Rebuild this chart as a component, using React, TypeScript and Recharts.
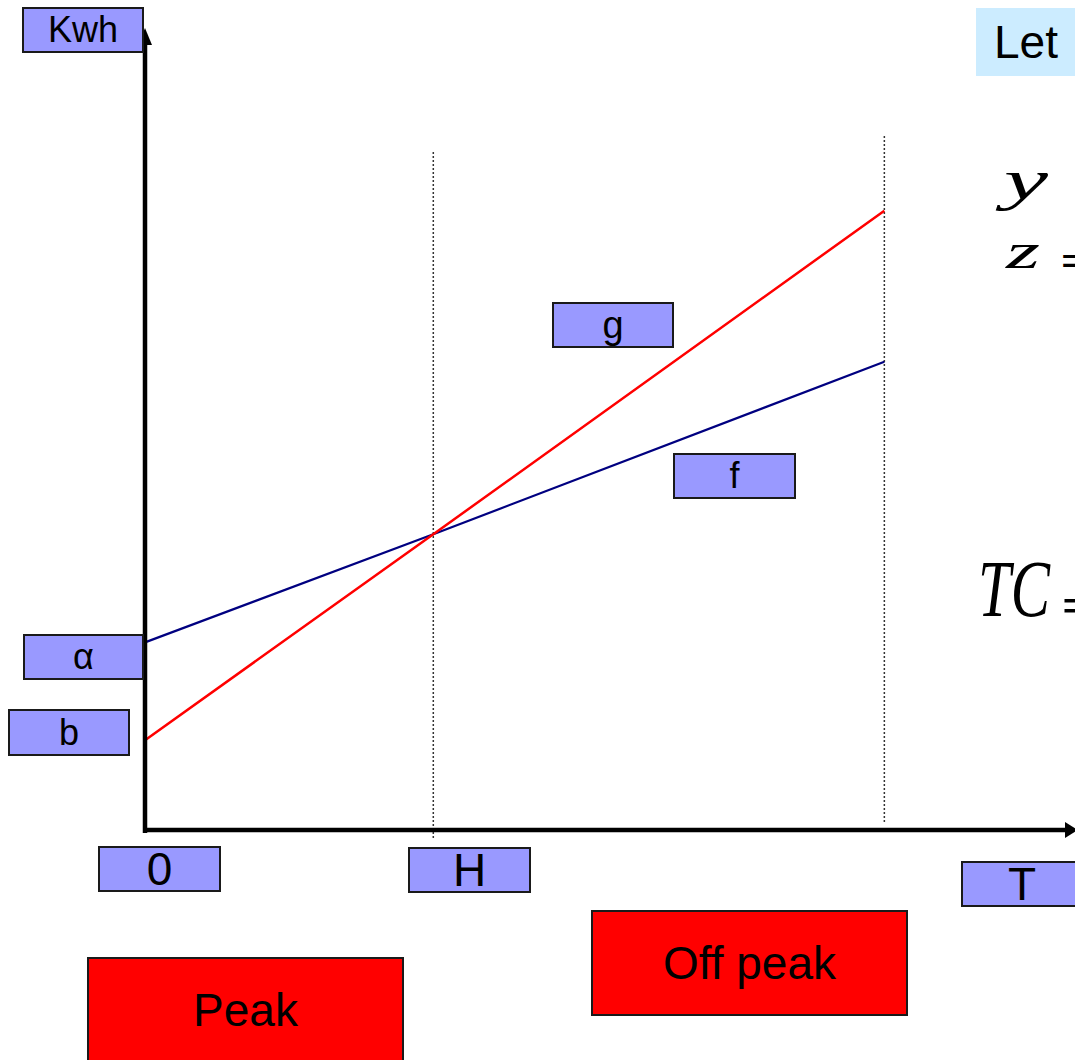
import { LineChart, Line, XAxis, YAxis, ReferenceLine } from "recharts"

// time (x) and energy (y) in arbitrary diagram units
const xValues = [0, 3.1, 7.95]
const fValues = [2.36, 3.72, 5.89]
const gValues = [1.13, 3.72, 7.79]
const H = 3.1
const END = 7.95
const X_MAX = 10
const Y_MAX = 10

const axisLabels = ["0", "H", "T"]
const sideLabels = ["Kwh", "α", "b"]
const lineLabels = ["g", "f"]
const periodLabels = ["Peak", "Off peak"]
const noteLabels = ["Let", "y", "z", "=", "TC", "="]

const data = xValues.map((x, i) => ({ x, f: fValues[i], g: gValues[i] }))

const SANS = '"Liberation Sans", Arial, sans-serif'
const SERIF = '"Liberation Serif", "Times New Roman", serif'
const BLUE_BOX = "#9999ff"

function Box({ left, top, width, height, fill, fontSize, border = true, align = "center", padLeft = 0, children }: any) {
  return (
    <div
      style={{
        position: "absolute",
        left,
        top,
        width,
        height,
        boxSizing: "border-box",
        border: border ? "2px solid #1a1a1a" : "none",
        background: fill,
        display: "flex",
        alignItems: "center",
        justifyContent: align,
        paddingLeft: padLeft,
        fontFamily: SANS,
        fontSize,
        lineHeight: 1,
        color: "#000",
        whiteSpace: "nowrap",
      }}
    >
      {children}
    </div>
  )
}

const ArrowUp = (p: any) => (
  <g>
    <line x1={p.x1} y1={p.y1 + 3} x2={p.x2} y2={p.y2 + 8} stroke="#000" strokeWidth={4.5} />
    <polygon points={`${p.x2 - 7},${p.y2 + 10} ${p.x2 + 7},${p.y2 + 10} ${p.x2},${p.y2 - 7}`} fill="#000" />
  </g>
)

const ArrowRight = (p: any) => (
  <g>
    <line x1={p.x1 - 2} y1={p.y1} x2={p.x2 - 8} y2={p.y2} stroke="#000" strokeWidth={4.5} />
    <polygon points={`${p.x2 - 10},${p.y2 - 8} ${p.x2 - 10},${p.y2 + 8} ${p.x2 + 3},${p.y2}`} fill="#000" />
  </g>
)

export default function App() {
  return (
    <div style={{ position: "absolute", left: 0, top: 0, width: 1075, height: 1060, overflow: "hidden", background: "#fff" }}>
      <LineChart width={1075} height={1060} data={data} margin={{ top: 35, right: 0, bottom: 230, left: 145 }}>
        <XAxis type="number" dataKey="x" domain={[0, X_MAX]} hide />
        <YAxis type="number" domain={[0, Y_MAX]} hide />
        <ReferenceLine
          segment={[{ x: H, y: -0.1 }, { x: H, y: 8.53 }]}
          stroke="#333"
          strokeWidth={1.5}
          strokeDasharray="2 2"
          ifOverflow="visible"
        />
        <ReferenceLine
          segment={[{ x: END, y: 0.1 }, { x: END, y: 8.73 }]}
          stroke="#333"
          strokeWidth={1.5}
          strokeDasharray="2 2"
          ifOverflow="visible"
        />
        <Line type="linear" dataKey="f" stroke="#000080" strokeWidth={2.2} dot={false} isAnimationActive={false} />
        <Line type="linear" dataKey="g" stroke="#ff0000" strokeWidth={2.5} dot={false} isAnimationActive={false} />
        <ReferenceLine segment={[{ x: 0, y: 0 }, { x: 0, y: Y_MAX }]} shape={ArrowUp} ifOverflow="visible" />
        <ReferenceLine segment={[{ x: 0, y: 0 }, { x: X_MAX, y: 0 }]} shape={ArrowRight} ifOverflow="visible" />
      </LineChart>

      <Box left={22} top={7} width={122} height={46} fill={BLUE_BOX} fontSize={36}>{sideLabels[0]}</Box>
      <Box left={23} top={634} width={121} height={46} fill={BLUE_BOX} fontSize={36}>{sideLabels[1]}</Box>
      <Box left={8} top={709} width={122} height={47} fill={BLUE_BOX} fontSize={36}>{sideLabels[2]}</Box>

      <Box left={98} top={846} width={123} height={46} fill={BLUE_BOX} fontSize={46}>{axisLabels[0]}</Box>
      <Box left={408} top={847} width={123} height={46} fill={BLUE_BOX} fontSize={46}>{axisLabels[1]}</Box>
      <Box left={961} top={861} width={122} height={46} fill={BLUE_BOX} fontSize={46}>{axisLabels[2]}</Box>

      <Box left={552} top={302} width={122} height={46} fill={BLUE_BOX} fontSize={38}>{lineLabels[0]}</Box>
      <Box left={673} top={453} width={123} height={46} fill={BLUE_BOX} fontSize={36}>{lineLabels[1]}</Box>

      <Box left={87} top={957} width={317} height={106} fill="#ff0000" fontSize={46}>{periodLabels[0]}</Box>
      <Box left={591} top={910} width={317} height={106} fill="#ff0000" fontSize={46}>{periodLabels[1]}</Box>

      <Box left={976} top={8} width={110} height={68} fill="#ccecff" fontSize={46} border={false} align="flex-start" padLeft={18}>
        {noteLabels[0]}
      </Box>

      <svg width={1075} height={1060} style={{ position: "absolute", left: 0, top: 0, pointerEvents: "none" }}>
        <text x={1004} y={199} fontFamily={SERIF} fontStyle="italic" fontSize={58} textLength={44} lengthAdjust="spacingAndGlyphs">
          {noteLabels[1]}
        </text>
        <text x={1006} y={268} fontFamily={SERIF} fontStyle="italic" fontSize={50} textLength={34} lengthAdjust="spacingAndGlyphs">
          {noteLabels[2]}
        </text>
        <text x={1061} y={275} fontFamily={SERIF} fontWeight="bold" fontSize={44}>{noteLabels[3]}</text>
        <text x={978} y={616} fontFamily={SERIF} fontStyle="italic" fontSize={80} textLength={72} lengthAdjust="spacingAndGlyphs">
          {noteLabels[4]}
        </text>
        <text x={1062} y={622} fontFamily={SERIF} fontWeight="bold" fontSize={50}>{noteLabels[5]}</text>
      </svg>
    </div>
  )
}
